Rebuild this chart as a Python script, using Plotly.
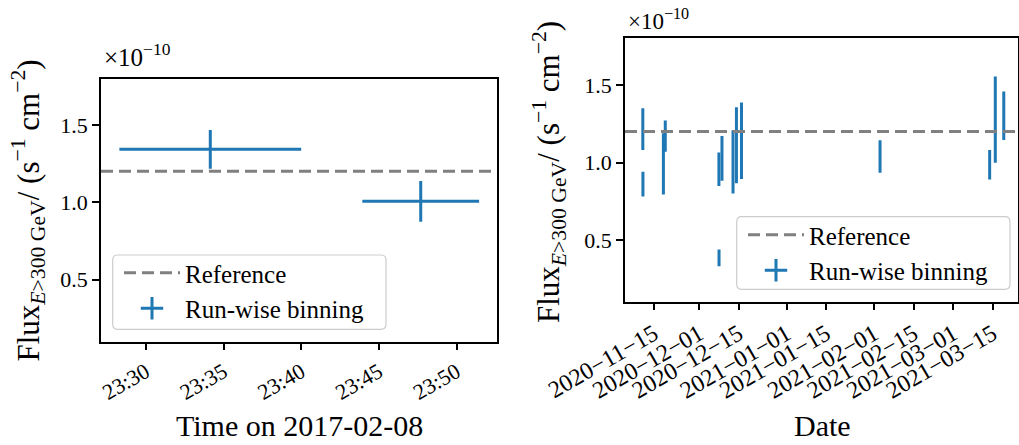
import pandas as pd
import plotly.graph_objects as go

# ---------------- data (flux in units of 1e-10 cm^-2 s^-1) ----------------
left_run_start = ["2017-02-08 23:28:18", "2017-02-08 23:43:56"]
left_run_stop = ["2017-02-08 23:40:00", "2017-02-08 23:51:27"]
left_flux = [1.342, 1.006]
left_flux_err = [0.125, 0.131]

right_dates = [
    "2020-11-11 01:00", "2020-11-11 02:00", "2020-11-18 08:00", "2020-11-19 00:00",
    "2020-12-08 00:00", "2020-12-08 01:00", "2020-12-09 02:00", "2020-12-13 00:00",
    "2020-12-14 05:00", "2020-12-16 00:00", "2021-02-03 02:00", "2021-03-13 22:00",
    "2021-03-15 22:00", "2021-03-18 22:00",
]
right_flux = [1.216, 0.862, 0.993, 1.171, 0.958, 0.388, 1.028, 1.005,
              1.112, 1.141, 1.040, 0.987, 1.277, 1.302]
right_flux_err = [0.135, 0.080, 0.197, 0.100, 0.108, 0.054, 0.144, 0.203,
                  0.245, 0.246, 0.105, 0.095, 0.278, 0.156]

reference_flux = 1.2

y_tickvals = [0.5, 1.0, 1.5]
right_tickvals = ["2020-11-15", "2020-12-01", "2020-12-15", "2021-01-01", "2021-01-15",
                  "2021-02-01", "2021-02-15", "2021-03-01", "2021-03-15"]
right_ticktext = [d.replace("-", "\u2212") for d in right_tickvals]

# ---------------- styling ----------------
W, H = 1019, 445
BLUE = "#1f77b4"
GRAY = "#808080"
FONT = "Liberation Serif"

def px_x(p):
    return p / W

def px_y(p):
    return 1 - p / H

start = pd.to_datetime(left_run_start)
stop = pd.to_datetime(left_run_stop)
center = start + (stop - start) / 2

# horizontal (time-bin) segments built from run start/stop
seg_x, seg_y = [], []
for a, b, f in zip(start, stop, left_flux):
    seg_x += [a, b, None]
    seg_y += [f, f, None]

fig = go.Figure()

# left panel data
fig.add_trace(go.Scatter(
    x=seg_x, y=seg_y, mode="lines", line=dict(color=BLUE, width=3),
    showlegend=False, xaxis="x", yaxis="y", hoverinfo="skip",
))
fig.add_trace(go.Scatter(
    x=list(center), y=left_flux, mode="markers",
    marker=dict(size=1, color=BLUE, opacity=0),
    error_y=dict(type="data", array=left_flux_err, color=BLUE, thickness=3, width=0),
    showlegend=False, xaxis="x", yaxis="y", hoverinfo="skip",
))
fig.add_trace(go.Scatter(
    x=[None], y=[None], mode="markers", name="Run-wise binning",
    marker=dict(symbol="cross-thin", size=16, color=BLUE, line=dict(width=3, color=BLUE)),
    legend="legend", legendrank=2, xaxis="x", yaxis="y",
))

# right panel data
fig.add_trace(go.Scatter(
    x=pd.to_datetime(right_dates), y=right_flux, mode="markers",
    marker=dict(size=1, color=BLUE, opacity=0),
    error_y=dict(type="data", array=right_flux_err, color=BLUE, thickness=3, width=0),
    showlegend=False, xaxis="x2", yaxis="y2", hoverinfo="skip",
))
fig.add_trace(go.Scatter(
    x=[None], y=[None], mode="markers", name="Run-wise binning",
    marker=dict(symbol="cross-thin", size=16, color=BLUE, line=dict(width=3, color=BLUE)),
    legend="legend2", legendrank=2, xaxis="x2", yaxis="y2",
))

# reference lines
for xr, yr, lg in [("x domain", "y", "legend"), ("x2 domain", "y2", "legend2")]:
    fig.add_shape(type="line", xref=xr, yref=yr, x0=0, x1=1, y0=reference_flux, y1=reference_flux,
                  line=dict(color=GRAY, width=3, dash="12px,6px"),
                  showlegend=True, name="Reference", legend=lg, legendrank=1, layer="above")

# rounded legend boxes
def rounded_box(x0, y0, x1, y1, r=5):
    X0, X1 = px_x(x0), px_x(x1)
    Y0, Y1 = px_y(y0), px_y(y1)
    rx, ry = r / W, r / H
    return (f"M{X0+rx},{Y0} L{X1-rx},{Y0} Q{X1},{Y0} {X1},{Y0-ry} "
            f"L{X1},{Y1+ry} Q{X1},{Y1} {X1-rx},{Y1} L{X0+rx},{Y1} "
            f"Q{X0},{Y1} {X0},{Y1+ry} L{X0},{Y0-ry} Q{X0},{Y0} {X0+rx},{Y0} Z")

for box in [(112.7, 255, 386, 329.3), (736.7, 216.7, 1010, 289.3)]:
    fig.add_shape(type="path", xref="paper", yref="paper", path=rounded_box(*box),
                  fillcolor="rgba(255,255,255,0.8)", line=dict(color="#cccccc", width=1.2),
                  layer="above")

axis_common = dict(showline=True, linecolor="black", linewidth=1.5, mirror=True,
                   ticks="outside", ticklen=7, tickwidth=1.5, tickcolor="black",
                   showgrid=False, zeroline=False, automargin=False)
tick_font = dict(family=FONT, size=22, color="black")
legend_font = dict(family=FONT, size=25, color="black")

fig.update_layout(
    template="none",
    width=W, height=H,
    margin=dict(l=0, r=0, t=0, b=0, autoexpand=False),
    paper_bgcolor="white", plot_bgcolor="white",
    font=dict(family=FONT, color="black"),
    xaxis=dict(domain=[px_x(101), px_x(497)], anchor="y", type="date",
               range=["2017-02-08 23:27:07", "2017-02-08 23:52:36"],
               tick0="2017-02-08 23:30", dtick=300000, tickformat="%H:%M",
               tickangle=-30, tickfont=tick_font, **axis_common),
    yaxis=dict(domain=[px_y(341.7), px_y(79)], anchor="x", range=[0.0995, 1.7965],
               tickvals=y_tickvals, tickformat=".1f", tickfont=tick_font, **axis_common),
    xaxis2=dict(domain=[px_x(625), px_x(1018)], anchor="y2", type="date",
                range=["2020-11-04 17:30", "2021-03-23 23:00"],
                tickvals=right_tickvals, ticktext=right_ticktext,
                tickangle=-30, tickfont=dict(family=FONT, size=24, color="black"),
                **axis_common),
    yaxis2=dict(domain=[px_y(301.7), px_y(38.3)], anchor="x2", range=[0.1055, 1.8005],
                tickvals=y_tickvals, tickformat=".1f", tickfont=tick_font, **axis_common),
    legend=dict(x=px_x(119), y=px_y(250), xanchor="left", yanchor="top",
                bgcolor="rgba(0,0,0,0)", borderwidth=0, itemwidth=56, font=legend_font),
    legend2=dict(x=px_x(743), y=px_y(212), xanchor="left", yanchor="top",
                 bgcolor="rgba(0,0,0,0)", borderwidth=0, itemwidth=56, font=legend_font),
)

ylabel = "Flux<sub><i>E</i>&gt;300 GeV</sub>/ (s<sup>\u22121</sup> cm<sup>\u22122</sup>)"
for x, y in [(28, 210.5), (549, 172)]:
    fig.add_annotation(text=ylabel, x=px_x(x), y=px_y(y), textangle=-90,
                       xref="paper", yref="paper", xanchor="center", yanchor="middle",
                       showarrow=False, font=dict(family=FONT, size=31, color="black"))

for text, x, y in [("Time on 2017-02-08", 299, 425), ("Date", 822, 425)]:
    fig.add_annotation(text=text, x=px_x(x), y=px_y(y),
                       xref="paper", yref="paper", xanchor="center", yanchor="middle",
                       showarrow=False, font=dict(family=FONT, size=30, color="black"))

for xl, yb, sz in [(102, 73, 25), (626, 36, 23)]:
    fig.add_annotation(text="\u00d710<sup>\u221210</sup>", xref="paper", yref="paper",
                       x=px_x(xl), y=px_y(yb), xanchor="left", yanchor="bottom",
                       showarrow=False, font=dict(family=FONT, size=sz, color="black"))

fig.write_html("out.html")
